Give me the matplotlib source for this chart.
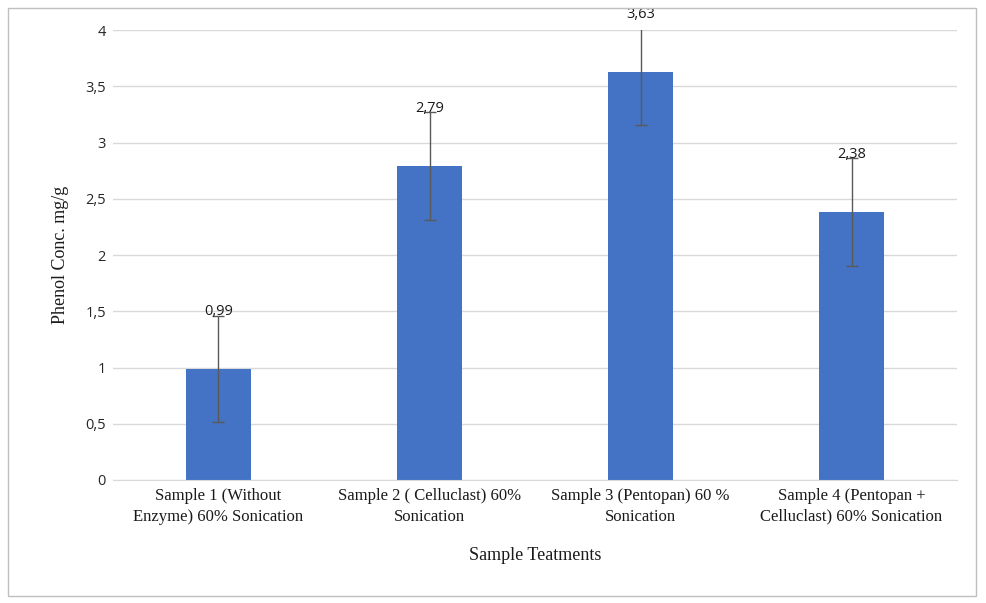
import matplotlib.pyplot as plt
from matplotlib.patches import Rectangle

# data
categories = ["Sample 1 (Without\nEnzyme) 60% Sonication",
              "Sample 2 ( Celluclast) 60%\nSonication",
              "Sample 3 (Pentopan) 60 %\nSonication",
              "Sample 4 (Pentopan +\nCelluclast) 60% Sonication"]
values = [0.99, 2.79, 3.63, 2.38]
errors = [0.47, 0.48, 0.47, 0.48]
value_labels = ["0,99", "2,79", "3,63", "2,38"]
y_ticks = [0, 0.5, 1, 1.5, 2, 2.5, 3, 3.5, 4]
y_tick_labels = ["0", "0,5", "1", "1,5", "2", "2,5", "3", "3,5", "4"]

bar_color = "#4472C4"
err_color = "#595959"
sans = ["Open Sans", "DejaVu Sans"]
serif = ["Liberation Serif", "DejaVu Serif"]

fig = plt.figure(figsize=(9.86, 6.03), dpi=100)
ax = fig.add_axes([0.1146, 0.204, 0.856, 0.746])

# outer chart frame
fig.patches.append(Rectangle((8 / 986, 7 / 603), 968 / 986, 588 / 603,
                             transform=fig.transFigure, fill=False,
                             edgecolor="#BFBFBF", linewidth=1))

x = range(len(categories))
ax.bar(x, values, width=0.31, color=bar_color, zorder=2)
ax.errorbar(x, values, yerr=errors, fmt="none", ecolor=err_color,
            elinewidth=1, capsize=4, capthick=1, zorder=3)

for i, (v, e, lab) in enumerate(zip(values, errors, value_labels)):
    ax.annotate(lab, (i, v + e), xytext=(0, 3), textcoords="offset points",
                ha="center", va="center", fontsize=10.5, family=sans,
                color="#1a1a1a", annotation_clip=False)

ax.set_xlim(-0.5, len(categories) - 0.5)
ax.set_ylim(0, 4)
ax.set_yticks(y_ticks)
ax.set_yticklabels(y_tick_labels, family=sans, fontsize=10.5, color="#262626")
ax.set_xticks(list(x))
ax.set_xticklabels(categories, family=serif, fontsize=12, color="#1a1a1a",
                   linespacing=1.35)
ax.tick_params(axis="both", length=0)
ax.tick_params(axis="y", pad=5)
ax.tick_params(axis="x", pad=6)

ax.grid(axis="y", color="#D9D9D9", linewidth=1, zorder=0)
ax.set_axisbelow(True)
for side in ["top", "right", "left"]:
    ax.spines[side].set_visible(False)
ax.spines["bottom"].set_color("#D9D9D9")

ax.set_ylabel("Phenol Conc. mg/g", family=serif, fontsize=13,
              color="#1a1a1a", labelpad=12)
ax.set_xlabel("Sample Teatments", family=serif, fontsize=13,
              color="#1a1a1a", labelpad=16)

fig.savefig("out.png", dpi=100)
